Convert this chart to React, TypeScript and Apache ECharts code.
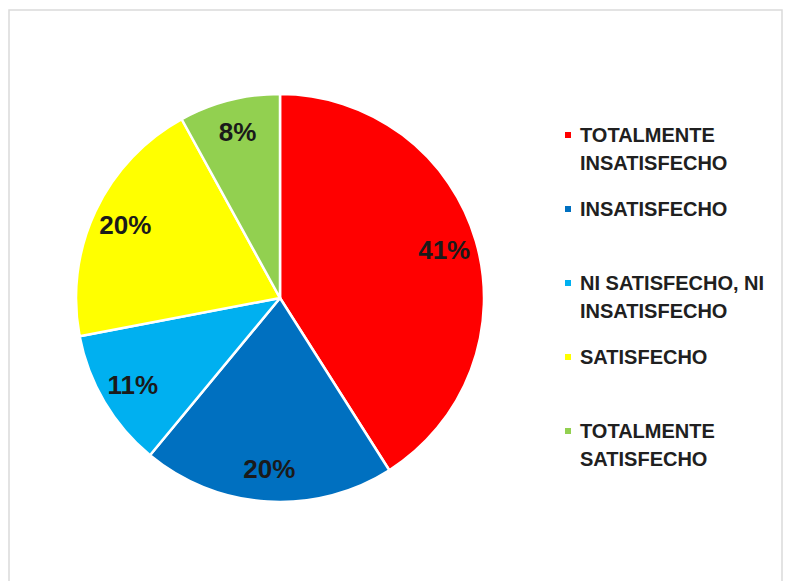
import React, { useEffect, useRef } from "react";
import * as echarts from "echarts";

const categories = [
  "TOTALMENTE\nINSATISFECHO",
  "INSATISFECHO",
  "NI SATISFECHO, NI\nINSATISFECHO",
  "SATISFECHO",
  "TOTALMENTE\nSATISFECHO",
];
const values = [41, 20, 11, 20, 8];
const colors = ["#FF0000", "#0070C0", "#00B0F0", "#FFFF00", "#92D050"];

export default function App() {
  const ref = useRef<HTMLDivElement>(null);
  useEffect(() => {
    if (!ref.current) return;
    const chart = echarts.init(ref.current, null, { renderer: "svg" });
    const data = categories.map((name, i) => ({
      name,
      value: values[i],
      itemStyle: { color: colors[i] },
    }));
    chart.setOption({
      animation: false,
      backgroundColor: "#ffffff",
      graphic: [
        {
          type: "rect",
          shape: { x: 9, y: 10, width: 773, height: 600 },
          style: { fill: "none", stroke: "#dadada", lineWidth: 1.5 },
          silent: true,
        },
      ],
      legend: {
        orient: "vertical",
        left: 563,
        top: 93,
        padding: 0,
        itemWidth: 8,
        itemHeight: 8,
        itemGap: 18,
        icon: "rect",
        data: categories,
        formatter: (name: string) => (name.includes("\n") ? "\n" + name : name),
        textStyle: {
          fontFamily: "Liberation Sans",
          fontSize: 20,
          fontWeight: "bold",
          lineHeight: 28,
          color: "#202020",
          padding: [0, 0, 0, 3],
        },
        selectedMode: false,
      },
      series: [
        {
          type: "pie",
          center: [280, 298],
          radius: [0, 204],
          startAngle: 90,
          clockwise: true,
          data,
          label: { show: false },
          labelLine: { show: false },
          itemStyle: { borderColor: "#ffffff", borderWidth: 2.5 },
          emphasis: { disabled: true },
          silent: true,
        },
        {
          type: "pie",
          center: [280, 298],
          radius: [132, 204],
          startAngle: 90,
          clockwise: true,
          data: categories.map((name, i) => ({ name, value: values[i] })),
          itemStyle: { color: "rgba(0,0,0,0)", borderWidth: 0 },
          label: {
            show: true,
            position: "inside",
            formatter: (p: any) => p.value + "%",
            fontFamily: "Liberation Sans",
            fontSize: 26,
            fontWeight: "bold",
            color: "#1a1a1a",
          },
          labelLine: { show: false },
          emphasis: { disabled: true },
          silent: true,
        },
      ],
    });
    return () => chart.dispose();
  }, []);
  return (
    <div
      ref={ref}
      style={{ position: "absolute", left: 0, top: 0, width: 787, height: 581 }}
    />
  );
}
